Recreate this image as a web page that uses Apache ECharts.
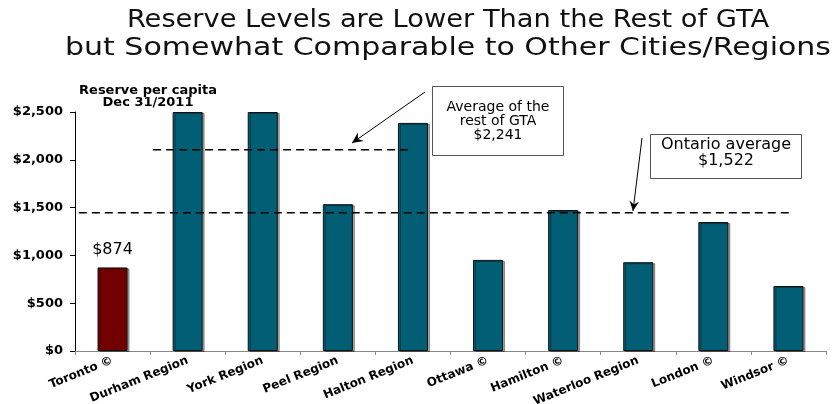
<!DOCTYPE html>
<html>
<head>
<meta charset="utf-8">
<script src="https://cdn.jsdelivr.net/npm/echarts@6/dist/echarts.min.js"></script>
<style>
html,body{margin:0;padding:0;background:#fff;}
#chart{width:835px;height:404px;}
</style>
</head>
<body>
<div id="chart"></div>
<script>
// ---- data ----
var categories = ['Toronto \u00A9', 'Durham Region', 'York Region', 'Peel Region', 'Halton Region',
                  'Ottawa \u00A9', 'Hamilton \u00A9', 'Waterloo Region', 'London \u00A9', 'Windsor \u00A9'];
var reservePerCapita = [874, 2500, 2500, 1536, 2386, 953, 1475, 929, 1349, 680];
var yTicks = [0, 500, 1000, 1500, 2000, 2500];
// dashed reference lines as drawn: [x, y] in category-index units
var gtaAvgLine = [[0.54, 2105], [3.99, 2105]];
var ontarioAvgLine = [[-0.45, 1445], [9.05, 1445]];
var titleLines = ['Reserve Levels are Lower Than the Rest of GTA', 'but Somewhat Comparable to Other Cities/Regions'];

var teal = '#015e75', maroon = '#720000';
var chart = echarts.init(document.getElementById('chart'));

function fmt(v){ return '$' + v.toLocaleString('en-US'); }

function arrow(x1, y1, x2, y2, head) {
  var a = Math.atan2(y2 - y1, x2 - x1), s = 0.45;
  var p1 = [x2 - head * Math.cos(a - s), y2 - head * Math.sin(a - s)];
  var p2 = [x2 - head * Math.cos(a + s), y2 - head * Math.sin(a + s)];
  return [
    { type: 'line', shape: { x1: x1, y1: y1, x2: x2, y2: y2 }, style: { stroke: '#000', lineWidth: 1 } },
    { type: 'polygon', shape: { points: [p1, [x2, y2], p2, [x2 - head*0.6*Math.cos(a), y2 - head*0.6*Math.sin(a)]] }, style: { fill: '#000' } }
  ];
}

var graphics = [
  { type: 'text', x: 448, y: 8, scaleX: 1.09, style: { text: titleLines[0], font: '25px "DejaVu Sans"', fill: '#111', align: 'center' } },
  { type: 'text', x: 448, y: 36, scaleX: 1.2, style: { text: titleLines[1], font: '25px "DejaVu Sans"', fill: '#111', align: 'center' } },
  { type: 'text', x: 148, y: 85, style: { text: 'Reserve per capita\nDec 31/2011', font: 'bold 13px "DejaVu Sans"', fill: '#000', align: 'center', lineHeight: 12 } },
  { type: 'rect', shape: { x: 432.5, y: 86.5, width: 131, height: 69 }, style: { fill: '#fff', stroke: '#555', lineWidth: 1 } },
  { type: 'text', x: 498, y: 100, style: { text: 'Average of the\nrest of GTA\n$2,241', font: '14px "DejaVu Sans"', fill: '#000', align: 'center', lineHeight: 14 } },
  { type: 'rect', shape: { x: 650.5, y: 134.5, width: 151, height: 44 }, style: { fill: '#fff', stroke: '#555', lineWidth: 1 } },
  { type: 'text', x: 726, y: 137, style: { text: 'Ontario average\n$1,522', font: '16px "DejaVu Sans"', fill: '#000', align: 'center', lineHeight: 16 } }
].concat(arrow(425, 92, 352, 143, 12)).concat(arrow(642, 138, 633, 211, 11));

var option = {
  animation: false,
  backgroundColor: '#fff',
  grid: { left: 75, right: 9, top: 112, bottom: 53, outerBoundsMode: 'none', containLabel: false },
  xAxis: [{
    type: 'category', data: categories,
    axisLine: { lineStyle: { color: '#888', width: 1 } },
    axisTick: { show: true, length: 4, lineStyle: { color: '#888' } },
    axisLabel: { rotate: 22, interval: 0, margin: 9, color: '#000', fontFamily: 'DejaVu Sans', fontWeight: 'bold', fontSize: 12 }
  }, {
    type: 'value', min: -0.5, max: 9.5, show: false
  }],
  yAxis: {
    type: 'value', min: yTicks[0], max: yTicks[yTicks.length - 1], interval: 500,
    axisLine: { show: true, onZero: false, lineStyle: { color: '#000', width: 1 } },
    axisTick: { show: true, length: 5, lineStyle: { color: '#000' } },
    splitLine: { show: false },
    axisLabel: { formatter: fmt, color: '#000', fontFamily: 'DejaVu Sans', fontWeight: 'bold', fontSize: 13, margin: 12 }
  },
  series: [{
    type: 'bar', barWidth: '40%',
    data: reservePerCapita.map(function (v, i) {
      return {
        value: v,
        itemStyle: { color: i === 0 ? maroon : teal },
        label: i === 0 ? { show: true, position: 'top', distance: 10, formatter: fmt(v), color: '#000', fontFamily: 'DejaVu Sans', fontSize: 16 } : { show: false }
      };
    }),
    itemStyle: { borderColor: '#111', borderWidth: 1, shadowColor: 'rgba(0,0,0,0.35)', shadowOffsetX: 2, shadowOffsetY: 1, shadowBlur: 0 }
  }, {
    type: 'line', xAxisIndex: 1, data: gtaAvgLine, symbol: 'none', silent: true,
    lineStyle: { color: '#000', width: 1.5, type: [8, 5] }, z: 5
  }, {
    type: 'line', xAxisIndex: 1, data: ontarioAvgLine, symbol: 'none', silent: true,
    lineStyle: { color: '#000', width: 1.5, type: [8, 5] }, z: 5
  }],
  graphic: graphics
};
chart.setOption(option);
</script>
</body>
</html>
